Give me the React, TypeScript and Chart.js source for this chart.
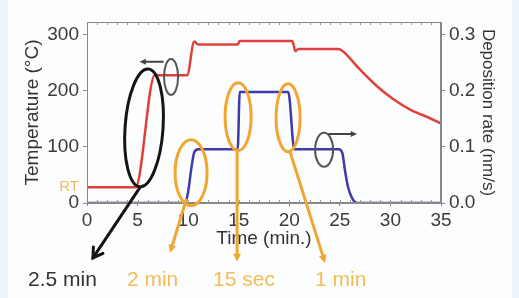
import { useEffect, useRef } from 'react';
import { Chart, registerables } from 'chart.js';
Chart.register(...registerables);

// ---- data ----
const tempTime = [0, 4.8, 6.7, 9.9, 10.6, 11.0, 14.9, 15.1, 20.3, 20.6, 20.9, 24.8, 25.3, 26.0, 27.0, 28.7, 30.3, 32.0, 33.7, 35];
const tempValues = [28, 28, 228, 228, 288, 283, 283, 289, 289, 271, 275, 275, 271, 258, 238, 208, 185, 166, 153, 142];
const rateTime = [0, 9.7, 10.0, 10.3, 10.6, 11.0, 14.9, 15.1, 19.9, 20.5, 24.9, 25.25, 25.5, 25.8, 26.2, 26.7, 35];
const rateValues = [0, 0, 0.02, 0.06, 0.09, 0.096, 0.096, 0.198, 0.198, 0.096, 0.096, 0.089, 0.059, 0.029, 0.009, 0, 0];
const xTicks = [0, 5, 10, 15, 20, 25, 30, 35];
const tempTicks = [0, 100, 200, 300];
const rateTicks = [0, 0.1, 0.2, 0.3];

// ---- annotations (data coordinates on x / left y) ----
const ORANGE = '#f2a630';
const ORANGE_TEXT = '#f2bd55';
const ellipses = [
  { x: 5.64, y: 134, rx: 19, ry: 59, rot: 0.07, color: '#151515', width: 3 },
  { x: 8.31, y: 225, rx: 7, ry: 18, rot: 0, color: '#555', width: 2 },
  { x: 10.29, y: 54, rx: 16, ry: 33, rot: 0, color: ORANGE, width: 3 },
  { x: 14.94, y: 154, rx: 13, ry: 34, rot: 0, color: ORANGE, width: 3 },
  { x: 19.88, y: 152, rx: 12, ry: 34, rot: 0, color: ORANGE, width: 3 },
  { x: 23.44, y: 95, rx: 9, ry: 17, rot: 0, color: '#555', width: 2 },
];
const arrows = [
  { from: [7.5, 252], to: [5.2, 252], color: '#444', width: 2, head: 7, filled: true },
  { from: [23.94, 123], to: [26.7, 123], color: '#444', width: 2, head: 7, filled: true },
  { from: [5.24, 28], to: [0.59, -98], color: '#151515', width: 3, head: 11, filled: false },
  { from: [9.79, 5], to: [8.21, -89], color: ORANGE, width: 3, head: 9, filled: true },
  { from: [14.84, 95], to: [14.84, -105], color: ORANGE, width: 3, head: 9, filled: true },
  { from: [20.08, 91], to: [23.54, -107], color: ORANGE, width: 3, head: 9, filled: true },
];
const labels = [
  { text: '2.5 min', x: -5.83, y: -137, color: '#333', size: 21, align: 'left' },
  { text: '2 min', x: 3.95, y: -137, color: ORANGE_TEXT, size: 21, align: 'left' },
  { text: '15 sec', x: 12.46, y: -137, color: ORANGE_TEXT, size: 21, align: 'left' },
  { text: '1 min', x: 22.54, y: -137, color: ORANGE_TEXT, size: 21, align: 'left' },
  { text: 'RT', x: -0.79, y: 28.6, color: '#e9bd68', size: 15, align: 'right' },
];

const FONT = "'Liberation Sans', Arial, sans-serif";

const annotationPlugin = {
  id: 'annot',
  afterDatasetsDraw(chart: any) {
    const { ctx, chartArea, scales } = chart;
    const xs = scales.x;
    const ys = scales.y;
    const px = (v: number) => xs.getPixelForValue(v);
    const py = (v: number) => ys.getPixelForValue(v);
    ctx.save();
    // frame
    ctx.strokeStyle = '#888';
    ctx.lineWidth = 1;
    ctx.strokeRect(chartArea.left + 0.5, chartArea.top + 0.5, chartArea.right - chartArea.left - 1, chartArea.bottom - chartArea.top - 1);
    // minor ticks
    ctx.strokeStyle = '#999';
    for (let m = 1; m < 35; m++) {
      const x = Math.round(px(m)) + 0.5;
      ctx.beginPath();
      ctx.moveTo(x, chartArea.top);
      ctx.lineTo(x, chartArea.top + 3);
      ctx.moveTo(x, chartArea.bottom);
      ctx.lineTo(x, chartArea.bottom - 3);
      ctx.stroke();
    }
    ctx.restore();

    ctx.save();
    for (const e of ellipses) {
      ctx.beginPath();
      ctx.ellipse(px(e.x), py(e.y), e.rx, e.ry, e.rot, 0, Math.PI * 2);
      ctx.strokeStyle = e.color;
      ctx.lineWidth = e.width;
      ctx.stroke();
    }
    for (const a of arrows) {
      const x1 = px(a.from[0]), y1 = py(a.from[1]);
      const x2 = px(a.to[0]), y2 = py(a.to[1]);
      const ang = Math.atan2(y2 - y1, x2 - x1);
      ctx.strokeStyle = a.color;
      ctx.fillStyle = a.color;
      ctx.lineWidth = a.width;
      ctx.lineCap = 'round';
      ctx.beginPath();
      ctx.moveTo(x1, y1);
      const back = a.filled ? a.head * 0.8 : 0;
      ctx.lineTo(x2 - Math.cos(ang) * back, y2 - Math.sin(ang) * back);
      ctx.stroke();
      const spread = a.filled ? 0.45 : 0.55;
      const hx1 = x2 - Math.cos(ang - spread) * a.head, hy1 = y2 - Math.sin(ang - spread) * a.head;
      const hx2 = x2 - Math.cos(ang + spread) * a.head, hy2 = y2 - Math.sin(ang + spread) * a.head;
      ctx.beginPath();
      if (a.filled) {
        ctx.moveTo(x2, y2);
        ctx.lineTo(hx1, hy1);
        ctx.lineTo(hx2, hy2);
        ctx.closePath();
        ctx.fill();
      } else {
        ctx.moveTo(hx1, hy1);
        ctx.lineTo(x2, y2);
        ctx.lineTo(hx2, hy2);
        ctx.stroke();
      }
    }
    for (const l of labels) {
      ctx.font = `${l.size}px ${FONT}`;
      ctx.fillStyle = l.color;
      ctx.textAlign = l.align as CanvasTextAlign;
      ctx.textBaseline = 'middle';
      ctx.fillText(l.text, px(l.x), py(l.y));
    }
    ctx.restore();
  },
};

export default function App() {
  const ref = useRef<HTMLCanvasElement>(null);
  useEffect(() => {
    if (!ref.current) return;
    const tickFont = { family: FONT, size: 19 };
    const chart = new Chart(ref.current, {
      type: 'line',
      data: {
        datasets: [
          {
            label: 'Temperature',
            data: tempTime.map((t, i) => ({ x: t, y: tempValues[i] })),
            borderColor: '#e0403c',
            borderWidth: 2.5,
            pointRadius: 0,
            yAxisID: 'y',
            cubicInterpolationMode: 'monotone',
          },
          {
            label: 'Deposition rate',
            data: rateTime.map((t, i) => ({ x: t, y: rateValues[i] })),
            borderColor: '#3f3aa6',
            borderWidth: 2.5,
            pointRadius: 0,
            yAxisID: 'y1',
            cubicInterpolationMode: 'monotone',
          },
        ],
      },
      options: {
        animation: false,
        responsive: false,
        devicePixelRatio: 1,
        layout: { padding: { left: 0, right: 0, top: 22, bottom: 48 } },
        plugins: { legend: { display: false }, tooltip: { enabled: false } },
        scales: {
          x: {
            type: 'linear',
            position: 'bottom',
            min: 0,
            max: 35,
            afterBuildTicks: (s: any) => { s.ticks = xTicks.map((v) => ({ value: v })); },
            afterFit: (s: any) => { s.height = 47; },
            ticks: { font: tickFont, color: '#3a3a3a', padding: 3, maxRotation: 0 },
            grid: { drawOnChartArea: false, tickLength: 3, color: '#888' },
            border: { color: '#888' },
            title: { display: true, text: 'Time (min.)', font: tickFont, color: '#333', padding: { top: 0, bottom: 0 } },
          },
          y: {
            type: 'linear',
            position: 'left',
            min: 0,
            max: 323,
            afterBuildTicks: (s: any) => { s.ticks = tempTicks.map((v) => ({ value: v })); },
            afterFit: (s: any) => { s.width = 87; },
            ticks: { font: tickFont, color: '#3a3a3a', padding: 4 },
            grid: { drawOnChartArea: false, tickLength: 4, color: '#888' },
            border: { color: '#888' },
            title: { display: true, text: 'Temperature (°C)', font: tickFont, color: '#333', padding: { top: 21, bottom: 0 } },
          },
          y1: {
            type: 'linear',
            position: 'right',
            min: 0,
            max: 0.323,
            afterBuildTicks: (s: any) => { s.ticks = rateTicks.map((v) => ({ value: v })); },
            afterFit: (s: any) => { s.width = 78; },
            ticks: { font: tickFont, color: '#3a3a3a', padding: 4, callback: (v: any) => Number(v).toFixed(1) },
            grid: { drawOnChartArea: false, tickLength: 4, color: '#888' },
            border: { color: '#888' },
            title: { display: true, text: 'Deposition rate (nm/s)', font: { family: FONT, size: 17 }, color: '#333', padding: { top: 21, bottom: 0 } },
          },
        },
      },
      plugins: [annotationPlugin],
    } as any);
    return () => chart.destroy();
  }, []);
  return (
    <div style={{ position: 'absolute', left: 0, top: 0, width: 519, height: 298, background: '#edf4fc' }}>
      <div style={{ position: 'absolute', left: 8, top: 0, width: 504, height: 298, background: '#fcfdfe' }} />
      <canvas ref={ref} width={519} height={298} style={{ position: 'absolute', left: 0, top: 0, width: 519, height: 298 }} />
    </div>
  );
}
